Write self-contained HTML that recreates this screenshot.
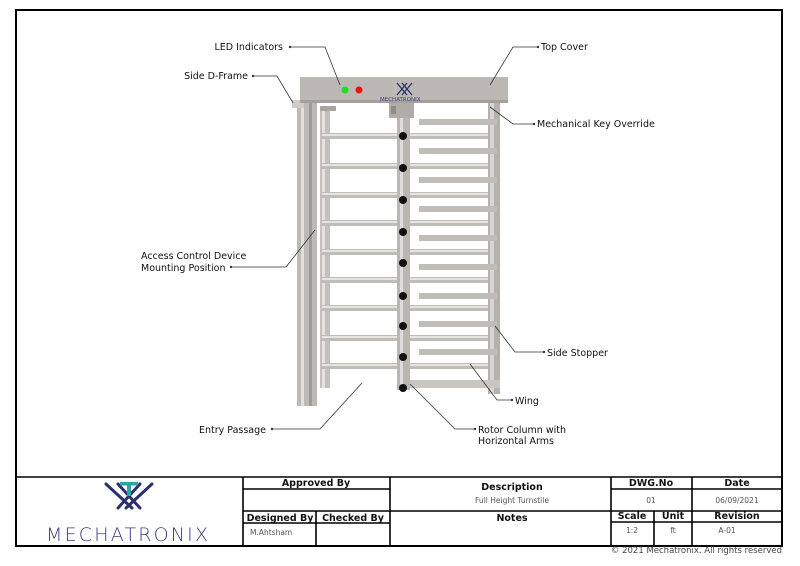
<!DOCTYPE html>
<html><head><meta charset="utf-8"><style>
body{margin:0;background:#fff}
svg{display:block}
text{font-family:"DejaVu Sans","Liberation Sans",sans-serif;fill:#111}
</style></head><body>
<svg width="800" height="566" viewBox="0 0 800 566" xmlns="http://www.w3.org/2000/svg">
<rect x="16" y="10" width="766" height="536" fill="none" stroke="#000" stroke-width="2"/>
<g>
<rect x="488" y="100" width="12" height="294" fill="#b5b2ae"/>
<rect x="490" y="100" width="4" height="294" fill="#d8d6d2"/>
<rect x="297" y="100" width="20" height="306" fill="#bdbab6"/>
<rect x="301" y="100" width="3" height="306" fill="#e2e0dc"/>
<rect x="309" y="100" width="3" height="306" fill="#9f9c98"/>
<rect x="320" y="106" width="10" height="282" fill="#c4c1bd"/>
<rect x="322" y="106" width="3" height="282" fill="#e4e2de"/>
<rect x="292" y="100" width="12" height="8" fill="#d0cdc9"/>
<rect x="320" y="106" width="16" height="5" fill="#a8a5a1"/>
<rect x="397" y="380" width="103" height="8" fill="#c9c6c2"/>
<g fill="#c0bdb9">
<rect x="322" y="133" width="166" height="6"/><rect x="322" y="163" width="166" height="6"/>
<rect x="322" y="192" width="166" height="6"/><rect x="322" y="220" width="166" height="6"/>
<rect x="322" y="249" width="166" height="6"/><rect x="322" y="277" width="166" height="6"/>
<rect x="322" y="305" width="166" height="6"/><rect x="322" y="335" width="166" height="6"/>
<rect x="322" y="363" width="166" height="6"/>
</g>
<g fill="#e6e4e0">
<rect x="322" y="134" width="166" height="2"/><rect x="322" y="164" width="166" height="2"/>
<rect x="322" y="193" width="166" height="2"/><rect x="322" y="221" width="166" height="2"/>
<rect x="322" y="250" width="166" height="2"/><rect x="322" y="278" width="166" height="2"/>
<rect x="322" y="306" width="166" height="2"/><rect x="322" y="336" width="166" height="2"/>
<rect x="322" y="364" width="166" height="2"/>
</g>
<g fill="#c0bdb9">
<rect x="419" y="119" width="78" height="6"/><rect x="419" y="148" width="78" height="6"/>
<rect x="419" y="177" width="78" height="6"/><rect x="419" y="206" width="78" height="6"/>
<rect x="419" y="235" width="78" height="6"/><rect x="419" y="264" width="78" height="6"/>
<rect x="419" y="293" width="78" height="6"/><rect x="419" y="321" width="78" height="6"/>
<rect x="419" y="349" width="78" height="6"/>
</g>
<rect x="397" y="110" width="13" height="280" fill="#bab7b3"/>
<rect x="400" y="110" width="3" height="280" fill="#dedcd8"/>
<rect x="389" y="103" width="25" height="15" fill="#b0ada9"/>
<rect x="391" y="106" width="5" height="8" fill="#8f8c88"/>
<g fill="#111">
<circle cx="403" cy="136" r="4"/><circle cx="403" cy="168" r="4"/><circle cx="403" cy="200" r="4"/>
<circle cx="403" cy="232" r="4"/><circle cx="403" cy="263" r="4"/><circle cx="403" cy="296" r="4"/>
<circle cx="403" cy="326" r="4"/><circle cx="403" cy="357" r="4"/><circle cx="403" cy="388" r="4"/>
</g>
<rect x="300" y="77" width="208" height="26" fill="#bcb9b5"/>
<rect x="300" y="100" width="208" height="3" fill="#a3a09c"/>
<circle cx="345" cy="90" r="3.5" fill="#22dd22"/>
<circle cx="359" cy="90" r="3.5" fill="#ee1111"/>
<g stroke="#2b2f6e" stroke-width="1.3"><line x1="397" y1="83" x2="407" y2="95"/><line x1="407" y1="83" x2="397" y2="95"/><line x1="402" y1="83" x2="412" y2="95"/><line x1="412" y1="83" x2="402" y2="95"/></g>
<text x="380" y="101" font-size="5.5" style="fill:#3a3f80">MECHATRONIX</text>
</g>
<g stroke="#333" stroke-width="0.8" fill="none">
<polyline points="290,47 325,47 340,85"/>
<polyline points="253,76 277,76 293,103"/>
<polyline points="538,47 513,47 490,85"/>
<polyline points="534,124 513,124 490,107"/>
<polyline points="231,267 286,267 315,230"/>
<polyline points="544,352 515,352 495,326"/>
<polyline points="512,400 497,400 470,364"/>
<polyline points="272,429 320,429 362,383"/>
<polyline points="475,429 455,429 410,384"/>
</g>
<g fill="#333">
<circle cx="290" cy="47" r="1.2"/><circle cx="253" cy="76" r="1.2"/><circle cx="538" cy="47" r="1.2"/>
<circle cx="534" cy="124" r="1.2"/><circle cx="231" cy="267" r="1.2"/><circle cx="544" cy="352" r="1.2"/>
<circle cx="512" cy="400" r="1.2"/><circle cx="272" cy="429" r="1.2"/><circle cx="475" cy="429" r="1.2"/>
</g>
<g font-size="9.5">
<text x="283" y="50" text-anchor="end">LED Indicators</text>
<text x="248" y="79" text-anchor="end">Side D-Frame</text>
<text x="541" y="50">Top Cover</text>
<text x="537" y="127">Mechanical Key Override</text>
<text x="141" y="259">Access Control Device</text>
<text x="141" y="271">Mounting Position</text>
<text x="547" y="356">Side Stopper</text>
<text x="515" y="404">Wing</text>
<text x="266" y="433" text-anchor="end">Entry Passage</text>
<text x="478" y="433">Rotor Column with</text>
<text x="478" y="444">Horizontal Arms</text>
</g>
<g stroke="#000" stroke-width="1.6" fill="none">
<line x1="16" y1="477" x2="782" y2="477"/>
<line x1="243" y1="477" x2="243" y2="546"/>
<line x1="390" y1="477" x2="390" y2="546"/>
<line x1="611" y1="477" x2="611" y2="546"/>
<line x1="692" y1="477" x2="692" y2="546"/>
<line x1="243" y1="489" x2="390" y2="489"/>
<line x1="243" y1="511" x2="782" y2="511"/>
<line x1="243" y1="523" x2="390" y2="523"/>
<line x1="316" y1="511" x2="316" y2="546"/>
<line x1="611" y1="489" x2="782" y2="489"/>
<line x1="611" y1="522" x2="782" y2="522"/>
<line x1="654" y1="511" x2="654" y2="546"/>
</g>
<g font-size="9.5" font-weight="bold">
<text x="316" y="486" text-anchor="middle">Approved By</text>
<text x="280" y="521" text-anchor="middle">Designed By</text>
<text x="353" y="521" text-anchor="middle">Checked By</text>
<text x="512" y="490" text-anchor="middle">Description</text>
<text x="512" y="521" text-anchor="middle">Notes</text>
<text x="651" y="486" text-anchor="middle">DWG.No</text>
<text x="737" y="486" text-anchor="middle">Date</text>
<text x="632" y="519" text-anchor="middle">Scale</text>
<text x="673" y="519" text-anchor="middle">Unit</text>
<text x="737" y="519" text-anchor="middle">Revision</text>
</g>
<g font-size="7.5">
<text x="250" y="535" style="fill:#555">M.Ahtsham</text>
<text x="512" y="503" text-anchor="middle" style="fill:#555">Full Height Turnstile</text>
<text x="651" y="503" text-anchor="middle" style="fill:#555">01</text>
<text x="737" y="503" text-anchor="middle" style="fill:#555">06/09/2021</text>
<text x="632" y="533" text-anchor="middle" style="fill:#555">1:2</text>
<text x="673" y="533" text-anchor="middle" style="fill:#555">ft</text>
<text x="727" y="533" text-anchor="middle" style="fill:#555">A-01</text>
<text x="782" y="553" text-anchor="end" font-size="8.5" style="fill:#444">© 2021 Mechatronix. All rights reserved</text>
</g>
<g stroke="#2b2f6e" stroke-width="3" stroke-linecap="round">
<line x1="106" y1="484" x2="132" y2="508"/>
<line x1="152" y1="484" x2="126" y2="508"/>
<line x1="118" y1="508" x2="140" y2="484"/>
<line x1="140" y1="508" x2="118" y2="484"/>
</g>
<rect x="120" y="482" width="18" height="3.5" fill="#2aa6a6"/>
<rect x="127" y="482" width="4" height="14" fill="#2aa6a6"/>
<text x="127" y="541" text-anchor="middle" font-size="19" textLength="162" lengthAdjust="spacing" style="fill:#3a3f80;font-weight:200">MECHATRONIX</text>
</svg>
</body></html>
